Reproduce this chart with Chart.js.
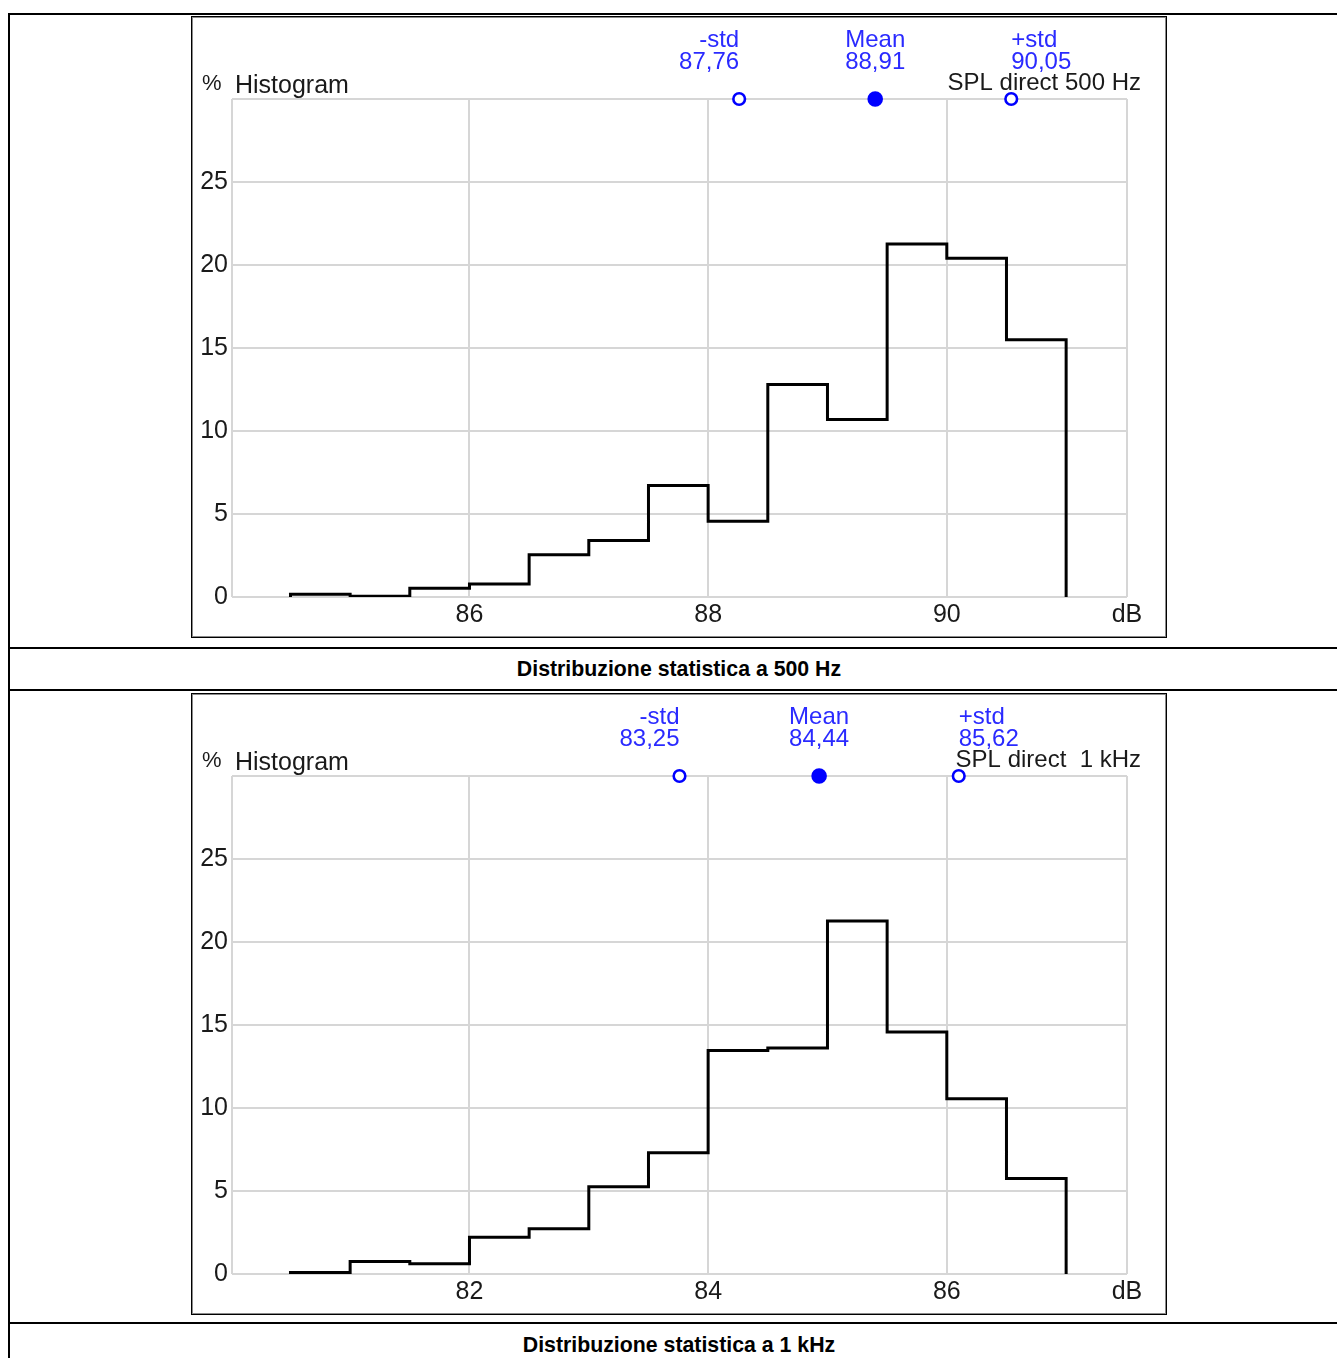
<!DOCTYPE html>
<html><head><meta charset="utf-8">
<script src="https://cdn.jsdelivr.net/npm/chart.js"></script>
<style>
html,body{margin:0;padding:0;background:#fff;overflow:hidden;}
body{width:1337px;height:1358px;position:relative;}
.hl{position:absolute;left:8px;width:1342px;height:2px;background:#000;}
.vl{position:absolute;left:8px;top:13px;width:2px;height:1400px;background:#000;}
.box{position:absolute;left:191px;width:976px;height:622px;box-sizing:border-box;border:1px solid #000;box-shadow:inset 1px 1px 0 #8a8a8a, inset -1px -1px 0 #8a8a8a;}
canvas{position:absolute;left:192px;}
.cap{position:absolute;left:10px;width:1338px;text-align:center;font:bold 21.3px "Liberation Sans",Arial,sans-serif;color:#000;line-height:24px;white-space:nowrap;}
</style></head>
<body>
<div class="vl"></div>
<div class="hl" style="top:13px"></div>
<div class="hl" style="top:647px"></div>
<div class="hl" style="top:689px"></div>
<div class="hl" style="top:1322px"></div>
<div class="box" style="top:16px"></div>
<div class="box" style="top:693px"></div>
<canvas id="c1" width="974" height="620" style="top:17px"></canvas>
<canvas id="c2" width="974" height="620" style="top:694px"></canvas>
<div class="cap" style="top:657px">Distribuzione statistica a 500 Hz</div>
<div class="cap" style="top:1333px">Distribuzione statistica a 1 kHz</div>
<script>
// ---- data ----
const chart1Edges = [84.5, 85, 85.5, 86, 86.5, 87, 87.5, 88, 88.5, 89, 89.5, 90, 90.5, 91];
const chart1Values = [0.17, 0.04, 0.53, 0.78, 2.55, 3.41, 6.71, 4.56, 12.8, 10.7, 21.26, 20.41, 15.5];
const chart1XRange = [84.01, 91.51];
const chart1XTicks = [86, 88, 90];
const chart1XLabels = ['86', '88', '90'];
const chart1MarkerPos = [88.26, 89.40, 90.54];
const chart1MarkerText = ['87,76', '88,91', '90,05'];
const chart1Name = 'SPL direct 500 Hz';

const chart2Edges = [80.5, 81, 81.5, 82, 82.5, 83, 83.5, 84, 84.5, 85, 85.5, 86, 86.5, 87];
const chart2Values = [0.09, 0.76, 0.62, 2.21, 2.73, 5.25, 7.31, 13.47, 13.62, 21.26, 14.58, 10.55, 5.76];
const chart2XRange = [80.01, 87.51];
const chart2XTicks = [82, 84, 86];
const chart2XLabels = ['82', '84', '86'];
const chart2MarkerPos = [83.76, 84.93, 86.10];
const chart2MarkerText = ['83,25', '84,44', '85,62'];
const chart2Name = 'SPL direct  1 kHz';

const xUnit = 'dB';
const markerNames = ['-std', 'Mean', '+std'];
const yTicks = [0, 5, 10, 15, 20, 25, 30];
const yLabels = ['0', '5', '10', '15', '20', '25', ''];
const chartTitle = 'Histogram';
const yUnit = '%';

const FONT = '"Liberation Sans", Arial, sans-serif';

const annotPlugin = {
  id: 'annot',
  afterDraw(chart, args, o) {
    const {ctx, chartArea} = chart;
    const x = chart.scales.x;
    ctx.save();
    ctx.textBaseline = 'alphabetic';
    ctx.fillStyle = '#1a1a1a';
    ctx.font = '22px ' + FONT;
    ctx.textAlign = 'left';
    ctx.fillText(yUnit, chartArea.left - 30, chartArea.top - 9);
    ctx.font = '25px ' + FONT;
    ctx.fillText(chartTitle, chartArea.left + 3, chartArea.top - 6);
    ctx.font = '24px ' + FONT;
    ctx.textAlign = 'right';
    ctx.fillText(o.name, chartArea.right + 14, chartArea.top - 9);
    ctx.fillStyle = '#2a2aff';
    const aligns = ['right', 'center', 'left'];
    o.pos.forEach((v, i) => {
      const px = x.getPixelForValue(v);
      ctx.textAlign = aligns[i];
      ctx.fillText(markerNames[i], px, chartArea.top - 52);
      ctx.fillText(o.text[i], px, chartArea.top - 30);
    });
    ctx.restore();
  }
};

function makeChart(id, edges, values, xRange, xTicks, xLabels, markerPos, markerText, name) {
  const pts = [{x: edges[0], y: 0}];
  values.forEach((v, i) => { pts.push({x: edges[i], y: v}); pts.push({x: edges[i + 1], y: v}); });
  pts.push({x: edges[edges.length - 1], y: 0});
  const yMax = yTicks[yTicks.length - 1];
  const allX = [xRange[0]].concat(xTicks, [xRange[1]]);
  const allXLabels = [''].concat(xLabels, [xUnit]);
  const gridOpts = {color: '#d6d6d6', lineWidth: 2, drawTicks: false};
  const tickFont = {family: FONT, size: 25};
  return new Chart(document.getElementById(id), {
    type: 'scatter',
    data: {datasets: [
      {data: pts, showLine: true, borderColor: '#000', borderWidth: 3, pointRadius: 0, tension: 0,
       borderJoinStyle: 'miter', borderCapStyle: 'butt', fill: false},
      {data: markerPos.map(v => ({x: v, y: yMax})), showLine: false, clip: false,
       pointRadius: [5.8, 6.8, 5.8], pointBorderWidth: [2.6, 2, 2.6],
       pointBackgroundColor: ['#ffffff', '#0000ff', '#ffffff'], pointBorderColor: '#0000ff'}
    ]},
    options: {
      responsive: false, animation: false, devicePixelRatio: 1, events: [],
      layout: {padding: {top: 82, right: 39, left: 0, bottom: 0}},
      plugins: {legend: {display: false}, tooltip: {enabled: false},
        annot: {pos: markerPos, text: markerText, name: name}},
      scales: {
        x: {type: 'linear', min: xRange[0], max: xRange[1],
          afterBuildTicks: s => { s.ticks = allX.map(v => ({value: v})); },
          afterFit: s => { s.height = 40; s.paddingLeft = 0; s.paddingRight = 0; },
          ticks: {autoSkip: false, maxRotation: 0, padding: 3, color: '#1a1a1a', font: tickFont,
            callback: (v, i) => allXLabels[i]},
          grid: gridOpts, border: {display: false}},
        y: {min: yTicks[0], max: yMax,
          afterBuildTicks: s => { s.ticks = yTicks.map(v => ({value: v})); },
          afterFit: s => { s.width = 40; },
          ticks: {padding: 4, color: '#1a1a1a', font: tickFont, callback: (v, i) => yLabels[i]},
          grid: gridOpts, border: {display: false}}
      }
    },
    plugins: [annotPlugin]
  });
}

makeChart('c1', chart1Edges, chart1Values, chart1XRange, chart1XTicks, chart1XLabels, chart1MarkerPos, chart1MarkerText, chart1Name);
makeChart('c2', chart2Edges, chart2Values, chart2XRange, chart2XTicks, chart2XLabels, chart2MarkerPos, chart2MarkerText, chart2Name);
</script>
</body></html>
